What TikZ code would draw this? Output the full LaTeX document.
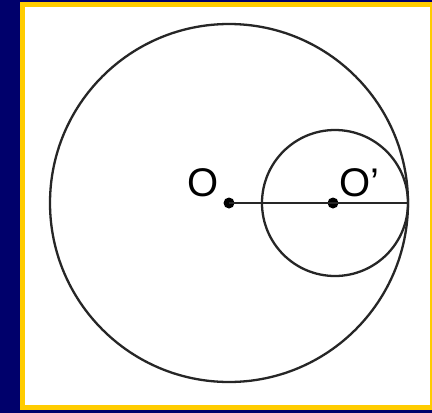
\documentclass[tikz,border=0pt]{standalone}
\usepackage{fontspec}
\setmainfont{Liberation Sans}
\definecolor{navy}{HTML}{00006B}
\definecolor{frameyellow}{HTML}{FFCC00}
\begin{document}
\begin{tikzpicture}[x=1pt,y=-1pt,
  circ/.style={draw=black!85,line width=2.3pt},
  seg/.style={draw=black!85,line width=1.8pt},
  dot/.style={circle,fill=black,inner sep=0pt,minimum size=11pt},
  lab/.style={font=\fontsize{40}{40}\selectfont,inner sep=0pt}]
\fill[navy] (0,0) rectangle (432,413);
\useasboundingbox (0,0) rectangle (432,413);
\fill[frameyellow] (20,2) rectangle (432,410);
\fill[white] (25,7) rectangle (430,405);
\draw[circ] (229,203) circle (179);
\draw[circ] (335,203) circle (73);
\node[dot] (O) at (229,203) {};
\node[dot] (Op) at (333,203) {};
\coordinate (T) at (408,203);
\draw[seg] (O.center) -- (T);
\node[lab] (Ol) at (203,183) {O};
\node[lab] (Opl) at (359,183) {O'};
\end{tikzpicture}
\end{document}
